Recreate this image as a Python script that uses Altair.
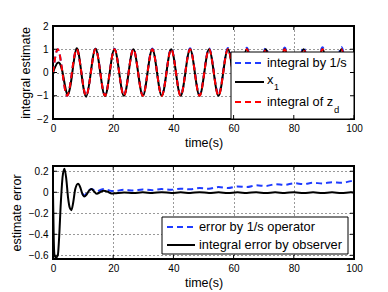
import altair as alt
import pandas as pd

# ---------------- top panel data ----------------
t_top = [0, 1.57, 3.14, 4.71, 6.28, 7.85, 9.42, 11.0, 12.57, 14.14, 15.71, 17.28,
         18.85, 20.42, 21.99, 23.56, 25.13, 26.7, 28.27, 29.85, 31.42, 32.99, 34.56,
         36.13, 37.7, 39.27, 40.84, 42.41, 43.98, 45.55, 47.12, 48.69, 50.27, 51.84,
         53.41, 54.98, 56.55, 58.12, 59.69, 61.26, 62.83, 64.4, 65.97, 67.54, 69.12,
         70.69, 72.26, 73.83, 75.4, 76.97, 78.54, 80.11, 81.68, 83.25, 84.82, 86.39,
         87.96, 89.54, 91.11, 92.68, 94.25, 95.82, 97.39, 98.96, 100]

integral_zd = [0, 1, 0, -1, 0, 1, 0, -1, 0, 1, 0, -1,
               0, 1, 0, -1, 0, 1, 0, -1, 0, 1, 0,
               -1, 0, 1, 0, -1, 0, 1, 0, -1, 0, 1,
               0, -1, 0, 1, 0, -1, 0, 1, 0, -1, 0,
               1, 0, -1, 0, 1, 0, -1, 0, 1, 0, -1,
               0, 1, 0, -1, 0, 1, 0, -1, -0.51]

x1_est = [0, 0.42, 0.03, -0.93, -0.14, 1.04, -0.01, -1.04, 0.01, 1.02, -0.01, -1.01,
          0.01, 1.0, 0, -1, 0, 1, 0, -1, 0, 1, 0,
          -1, 0, 1, 0, -1, 0, 1, 0, -1, 0, 1,
          0, -1, 0, 1, 0, -1, 0, 1, 0, -1, 0,
          1, 0, -1, 0, 1, 0, -1, 0, 1, 0, -1,
          0, 1, 0, -1, 0, 1, 0, -1, -0.51]

integral_1s = [0, 1.0, 0, -1, 0, 1.0, 0, -0.99, 0.01, 1.02, 0.02, -0.98,
               0.02, 1.02, 0.02, -0.98, 0.02, 1.02, 0.02, -0.97, 0.03, 1.03, 0.03,
               -0.97, 0.03, 1.03, 0.03, -0.97, 0.04, 1.04, 0.04, -0.96, 0.04, 1.04,
               0.05, -0.95, 0.05, 1.05, 0.05, -0.94, 0.06, 1.06, 0.06, -0.94, 0.07,
               1.07, 0.07, -0.93, 0.07, 1.07, 0.08, -0.92, 0.08, 1.08, 0.08, -0.92,
               0.09, 1.09, 0.09, -0.91, 0.09, 1.10, 0.10, -0.90, -0.41]

# ---------------- bottom panel data ----------------
t_err_obs = [0, 0.25, 0.5, 1.0, 1.6, 2.0, 2.6, 3.2, 3.8, 4.4, 5.0, 5.6, 6.1, 6.7, 7.4,
             8.3, 9.1, 9.7, 10.4, 11.2, 12.0, 12.8, 13.6, 14.6, 15.6, 16.8, 18.2, 19.5,
             20.4, 23.6, 26.7, 29.8, 33.0, 36.1, 39.3, 42.4, 45.6, 48.7, 51.8, 55.0,
             58.1, 61.3, 64.4, 67.5, 70.7, 73.8, 77.0, 80.1, 83.3, 86.4, 89.5, 92.7,
             95.8, 99.0, 100]
err_obs = [0, -0.45, -0.6, -0.62, -0.6, -0.45, -0.1, 0.15, 0.225, 0.13, -0.05, -0.15,
           -0.17, -0.1, 0.03, 0.08, 0.045, -0.01, -0.04, -0.02, 0.015, 0.03, 0.01,
           -0.015, 0.0, 0.015, 0.005, -0.012,
           -0.01, -0.001, -0.008, 0.0, -0.007, 0.001, -0.007, 0.0, -0.007, 0.001,
           -0.007, 0.0, -0.008, 0.0, -0.007, 0.001, -0.008, 0.0, -0.007, 0.001, -0.008,
           0.0, -0.007, 0.0, -0.007, 0.0, -0.004]

t_err_1s = [9.7, 10.4, 11.2, 12.0, 12.8, 13.6, 14.6, 15.6, 16.8, 18.2, 19.5,
            20.4, 23.6, 26.7, 29.8, 33.0, 36.1, 39.3, 42.4, 45.6, 48.7, 51.8, 55.0,
            58.1, 61.3, 64.4, 67.5, 70.7, 73.8, 77.0, 80.1, 83.3, 86.4, 89.5, 92.7,
            95.8, 99.0, 100]
err_1s = [-0.01, -0.03, -0.01, 0.02, 0.032, 0.02, 0.01, 0.02, 0.03, 0.022, 0.012,
          0.012, 0.024, 0.016, 0.026, 0.02, 0.03, 0.024, 0.034, 0.028, 0.04, 0.034,
          0.05, 0.04, 0.056, 0.05, 0.066, 0.06, 0.076, 0.07, 0.086, 0.078, 0.09,
          0.084, 0.096, 0.09, 0.106, 0.11]

x_ticks = [0, 20, 40, 60, 80, 100]
y_ticks_top = [-2, -1, 0, 1, 2]
y_ticks_bot = [-0.6, -0.4, -0.2, 0, 0.2]

top_labels = ["integral by 1/s", "x", "integral of z"]
bot_labels = ["error by 1/s operator", "integral error by observer"]

# ---------------- styling ----------------
FONT = "Liberation Sans"
W, H = 301, 93
BLUE, RED, BLACK = "#1f3cff", "#ff0000", "#000000"
DASH = [6, 4]

xs = alt.Scale(domain=[0, 100], nice=False, zero=False)
ax_x = alt.Axis(values=x_ticks, title="time(s)", grid=True, ticks=False, domain=False,
                labelFontSize=10, titleFontSize=12.5, labelPadding=4, titlePadding=3,
                gridColor="#000", gridDash=[1, 3], gridOpacity=0.8, labelColor="#000",
                titleColor="#000", titleFontWeight="normal", labelFlush=False)


def yaxis(title, vals, fmt, tpad):
    return alt.Axis(values=vals, title=title, grid=True, ticks=False, domain=False,
                    format=fmt, labelFontSize=10, titleFontSize=12.5, labelPadding=5,
                    titlePadding=tpad, gridColor="#000", gridDash=[1, 3], gridOpacity=0.8,
                    labelColor="#000", titleColor="#000", titleFontWeight="normal",
                    labelFlush=False)


def one(v):
    return alt.Chart(pd.DataFrame({"v": [v]}))


def line(t, y, color, dash, ys, ay, interp, width=2):
    df = pd.DataFrame({"t": t, "y": y})
    kw = dict(color=color, strokeWidth=width, interpolate=interp, clip=True)
    if dash:
        kw["strokeDash"] = dash
    return alt.Chart(df).mark_line(**kw).encode(
        x=alt.X("t:Q", scale=xs, axis=ax_x),
        y=alt.Y("y:Q", scale=ys, axis=ay),
    )


def inside_ticks(ys, ay, yvals):
    dx = pd.DataFrame({"v": x_ticks})
    dy = pd.DataFrame({"v": yvals})
    r = dict(color="black", strokeWidth=1)
    return [
        alt.Chart(dx).mark_rule(**r).encode(x=alt.X("v:Q", scale=xs, axis=ax_x),
                                            y=alt.value(H), y2=alt.value(H - 4)),
        alt.Chart(dx).mark_rule(**r).encode(x=alt.X("v:Q", scale=xs, axis=ax_x),
                                            y=alt.value(0), y2=alt.value(4)),
        alt.Chart(dy).mark_rule(**r).encode(y=alt.Y("v:Q", scale=ys, axis=ay),
                                            x=alt.value(0), x2=alt.value(4)),
        alt.Chart(dy).mark_rule(**r).encode(y=alt.Y("v:Q", scale=ys, axis=ay),
                                            x=alt.value(W), x2=alt.value(W - 4)),
    ]


def sample(x1, x2, y, color, dash):
    kw = dict(color=color, strokeWidth=2)
    if dash:
        kw["strokeDash"] = dash
    return one(0).mark_rule(**kw).encode(x=alt.value(x1), x2=alt.value(x2), y=alt.value(y))


def label(text, x, y, size=12.8):
    return one(text).mark_text(align="left", baseline="middle", font=FONT,
                               fontSize=size, color="black").encode(
        text="v:N", x=alt.value(x), y=alt.value(y))


# ---------------- top panel ----------------
ys_top = alt.Scale(domain=[-2, 2], nice=False, zero=False)
ay_top = yaxis("integral estimate", y_ticks_top, "d", 4)

top = alt.layer(
    line(t_top, integral_1s, BLUE, DASH, ys_top, ay_top, "natural"),
    line(t_top, x1_est, BLACK, None, ys_top, ay_top, "natural"),
    line(t_top, integral_zd, RED, DASH, ys_top, ay_top, "natural"),
    one(0).mark_rect(fill="white", stroke="black", strokeWidth=1).encode(
        x=alt.value(178), x2=alt.value(W), y=alt.value(26), y2=alt.value(H)),
    sample(182, 211, 37, BLUE, DASH),
    sample(182, 211, 56, BLACK, None),
    sample(182, 211, 76, RED, DASH),
    label(top_labels[0], 214, 37),
    label(top_labels[1], 214, 54),
    label("1", 221, 61, 9),
    label(top_labels[2], 214, 76),
    label("d", 281, 84, 9.5),
    *inside_ticks(ys_top, ay_top, y_ticks_top),
).properties(width=W, height=H)

# ---------------- bottom panel ----------------
ys_bot = alt.Scale(domain=[-0.635, 0.25], nice=False, zero=False)
ay_bot = yaxis("estimate error", y_ticks_bot, "~g", 5)

bottom = alt.layer(
    line(t_err_1s, err_1s, BLUE, DASH, ys_bot, ay_bot, "monotone"),
    line(t_err_obs, err_obs, BLACK, None, ys_bot, ay_bot, "monotone"),
    one(0).mark_rect(fill="white", stroke="black", strokeWidth=1).encode(
        x=alt.value(109), x2=alt.value(295), y=alt.value(51), y2=alt.value(88)),
    sample(114, 142, 61, BLUE, DASH),
    sample(114, 142, 79, BLACK, None),
    label(bot_labels[0], 146, 61),
    label(bot_labels[1], 146, 79),
    *inside_ticks(ys_bot, ay_bot, y_ticks_bot),
).properties(width=W, height=H)

chart = alt.vconcat(top, bottom, spacing=14).configure(
    font=FONT, padding={"left": 1, "top": 12, "right": 5, "bottom": 5}
).configure_view(stroke="black", strokeWidth=2)

chart.save("out.html", embed_options={"renderer": "svg", "actions": False})
